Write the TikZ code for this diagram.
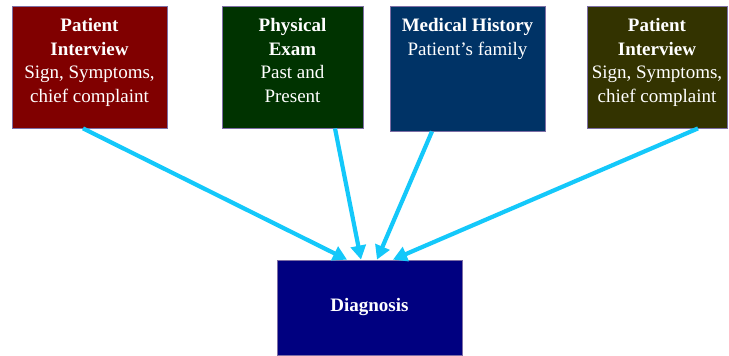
\documentclass[tikz,border=0pt]{standalone}
\usepackage{fontspec}
\setmainfont{Liberation Serif}
\usetikzlibrary{arrows.meta}

\definecolor{interviewred}{RGB}{128,0,0}
\definecolor{examgreen}{RGB}{0,51,0}
\definecolor{historyblue}{RGB}{0,51,102}
\definecolor{interviewolive}{RGB}{51,51,0}
\definecolor{diagnosisblue}{RGB}{0,0,128}
\definecolor{arrowcyan}{RGB}{20,200,250}
\definecolor{boxline}{RGB}{125,110,165}

\tikzset{
  box/.style={rectangle, draw=boxline, line width=.8pt, inner sep=0pt},
  boxtext/.style={anchor=north, text=white, align=center, inner sep=0pt,
    font=\fontsize{19}{23.5}\selectfont},
  link/.style={draw=arrowcyan, line width=4.2pt, -{Triangle[length=14pt,width=15pt]}}
}

\begin{document}
\begin{tikzpicture}[x=1pt,y=-1pt]
  \useasboundingbox (0,0) rectangle (729,356);

  \begin{scope}[every node/.style={box}]
    \node (interview1) at (89.5,67)  [fill=interviewred, minimum width=155pt, minimum height=122pt] {};
    \node (exam)       at (292.5,67) [fill=examgreen, minimum width=141pt, minimum height=122pt] {};
    \node (history)    at (467.5,68.5) [fill=historyblue, minimum width=155pt, minimum height=125pt] {};
    \node (interview2) at (657,67)   [fill=interviewolive, minimum width=140pt, minimum height=122pt] {};
    \node (diagnosis)  at (369.5,307.5) [fill=diagnosisblue, minimum width=185pt, minimum height=95pt] {};
  \end{scope}

  \begin{scope}[every node/.style={boxtext}]
    \node (interview1 text) at ([yshift=-13]interview1.north) {\textbf{Patient}\\\textbf{Interview}\\Sign, Symptoms,\\chief complaint};
    \node (exam text)       at ([yshift=-13]exam.north) {\textbf{Physical}\\\textbf{Exam}\\Past and\\Present};
    \node (history text)    at ([yshift=-13]history.north) {\textbf{Medical History}\\Patient’s family};
    \node (interview2 text) at ([yshift=-13]interview2.north) {\textbf{Patient}\\\textbf{Interview}\\Sign, Symptoms,\\chief complaint};
    \node[anchor=center] (diagnosis text) at (diagnosis.center) {\textbf{Diagnosis}};
  \end{scope}

  \path[link] ([xshift=-6.5]interview1.south) -- ([xshift=-22.5]diagnosis.north);
  \path[link] ([xshift=42.5]exam.south) -- ([xshift=-8.5]diagnosis.north);
  \path[link] ([xshift=-35.5]history.south) -- ([xshift=7.5]diagnosis.north);
  \path[link] ([xshift=41]interview2.south) -- ([xshift=23.5]diagnosis.north);

\end{tikzpicture}
\end{document}
